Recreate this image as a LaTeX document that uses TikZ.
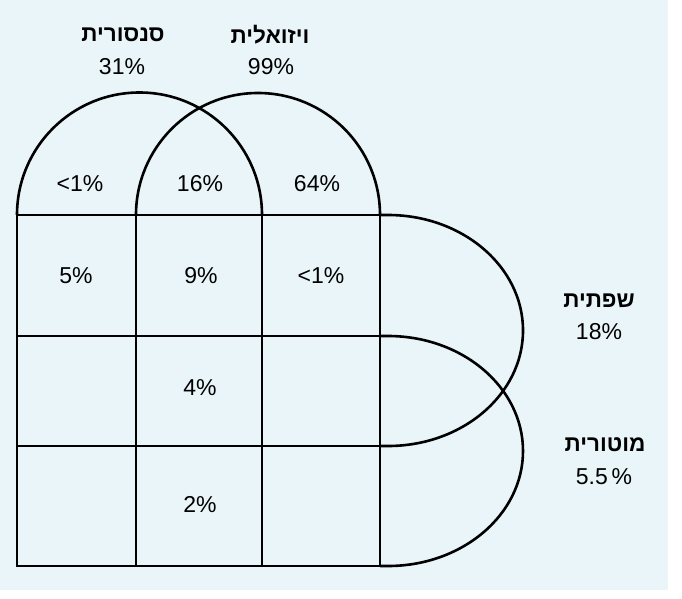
\documentclass[tikz,border=0pt]{standalone}
\usepackage{fontspec}
\setmainfont{Liberation Sans}
\newfontfamily\heb[Script=Hebrew]{Liberation Sans}
\TeXXeTstate=1
\definecolor{bg}{RGB}{234,245,249}
\begin{document}
\begin{tikzpicture}[x=1pt,y=-1pt,line width=2.6pt,
  num/.style={font=\fontsize{23}{25}\selectfont, inner sep=0pt},
  hlab/.style={font=\heb\bfseries\fontsize{22.5}{25}\selectfont, inner sep=0pt}]
\useasboundingbox (0,0) rectangle (682,599);
\fill[white] (0,0) rectangle (682,599);
\fill[bg] (0,0) rectangle (668,590);
% grid
\draw (17,215) rectangle (380,566);
\draw (136,215) -- (136,566);
\draw (262,215) -- (262,566);
\draw (17,336) -- (380,336);
\draw (17,446) -- (380,446);
% top arcs
\draw (17,215) arc[start angle=180,end angle=0,radius=122.5pt];
\draw (136,215) arc[start angle=180,end angle=0,radius=122pt];
% right arcs
\draw (380,215) -- (388,215) arc[start angle=90,end angle=-90,x radius=135pt,y radius=115.5pt] -- (380,446);
\draw (380,336) -- (388,336) arc[start angle=90,end angle=-90,x radius=135pt,y radius=115pt] -- (380,566);
% labels
\node[hlab] (sens) at (123,35) {\beginR סנסורית\endR};
\node[num] (sensp) at (122,67) {31\%};
\node[hlab] (vis) at (270,35) {\beginR ויזואלית\endR};
\node[num] (visp) at (271,67) {99\%};
\node[hlab] (lang) at (599,301) {\beginR שפתית\endR};
\node[num] (langp) at (599,332) {18\%};
\node[hlab] (mot) at (605,445) {\beginR מוטורית\endR};
\node[num] (motp) at (604,477) {5.5\,\%};
% cells
\node[num] (c11) at (80,184) {<1\%};
\node[num] (c12) at (200,184) {16\%};
\node[num] (c13) at (317,184) {64\%};
\node[num] (c21) at (76,276) {5\%};
\node[num] (c22) at (201,276) {9\%};
\node[num] (c23) at (321,276) {<1\%};
\node[num] (c32) at (200,388) {4\%};
\node[num] (c42) at (200,505) {2\%};
\end{tikzpicture}
\end{document}
